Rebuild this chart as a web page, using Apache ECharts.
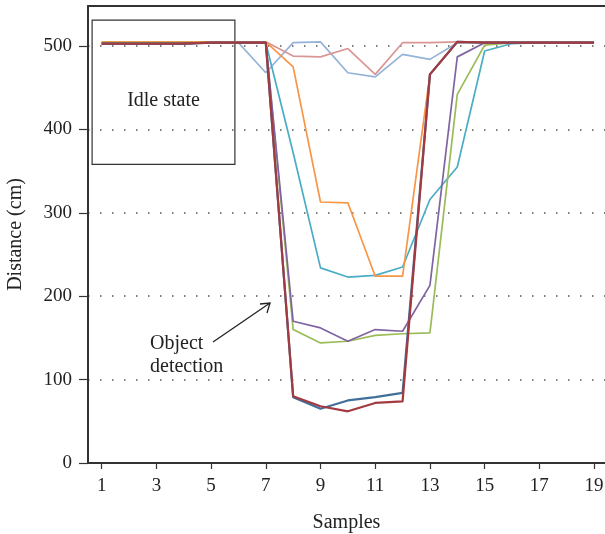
<!DOCTYPE html>
<html><head><meta charset="utf-8">
<script src="https://cdn.jsdelivr.net/npm/echarts@6/dist/echarts.min.js"></script>
<style>html,body{margin:0;padding:0;background:#fff}#c{width:605px;height:534px}</style>
</head><body><div id="c"></div>
<script>
const samples = [1,2,3,4,5,6,7,8,9,10,11,12,13,14,15,16,17,18,19];
const xTicks = [1,3,5,7,9,11,13,15,17,19];
const yTicks = [0,100,200,300,400,500];
const sBlue   = [503,503,503,503,504,504,504,79,65,75,79,84,466,505,504,504,504,504,504];
const sRed    = [503,503,503,503,504,504,504,80,68,62,72,74,466,505,504,504,504,504,504];
const sPurple = [503,503,503,503,504,504,504,170,162,146,160,158,213,487,504,504,504,504,504];
const sGreen  = [504,504,504,504,504,504,504,160,144,146,153,155,156,442,501,504,504,504,504];
const sTeal   = [503,503,503,503,504,504,504,372,234,223,225,235,316,355,494,503,504,504,504];
const sOrange = [505,505,505,505,505,505,505,475,313,312,224,224,466,505,505,504,504,504,504];
const sLBlue  = [503,503,503,503,504,504,468,504,505,468,463,490,484,504,504,504,504,504,504];
const sPink   = [505,505,505,505,505,505,505,488,487,497,466,504,504,505,505,505,505,505,505];

const FONT = '"Liberation Serif", "DejaVu Serif", serif';
const mk = (d) => d.map((v,i)=>[samples[i], v]);
const series = [
  {data: sLBlue, color:'#95b3d7', w:1.7},
  {data: sPink, color:'#d99694', w:1.7},
  {data: sTeal, color:'#4bacc6', w:1.7},
  {data: sOrange, color:'#f79646', w:1.7},
  {data: sGreen, color:'#9bbb59', w:1.7},
  {data: sPurple, color:'#8064a2', w:1.7},
  {data: sBlue, color:'#40709a', w:2.2},
  {data: sRed, color:'#a23a40', w:2.2}
].map(s => ({type:'line', data: mk(s.data), symbol:'none', silent:true,
  lineStyle:{color:s.color, width:s.w}, itemStyle:{color:s.color}, z:3}));

series[0].markArea = {
  silent:true,
  itemStyle:{color:'rgba(0,0,0,0)', borderColor:'#333', borderWidth:1.2},
  label:{show:true, position:'inside', offset:[0,8], formatter:'Idle state', color:'#222', fontFamily:FONT, fontSize:20},
  data:[[{coord:[0.65,531]},{coord:[5.87,358]}]]
};

const chart = echarts.init(document.getElementById('c'));
chart.setOption({
  animation:false,
  grid:{left:88, right:0, top:6, bottom:71, containLabel:false, outerBoundsMode:'none'},
  xAxis:[{
    type:'value', min:0.5, max:19.4,
    name:'Samples', nameLocation:'middle', nameGap:50,
    nameTextStyle:{fontFamily:FONT, fontSize:20, color:'#222'},
    axisLine:{show:true, onZero:false, lineStyle:{color:'#333', width:2}},
    axisTick:{show:true, length:6, customValues:xTicks, lineStyle:{color:'#333', width:1.2}},
    axisLabel:{customValues:xTicks, fontFamily:FONT, fontSize:19, color:'#222', margin:14},
    splitLine:{show:false}
  },{
    type:'value', position:'top', min:0.5, max:19.4,
    axisLine:{show:true, onZero:false, lineStyle:{color:'#333', width:2}},
    axisTick:{show:false}, axisLabel:{show:false}, splitLine:{show:false}
  }],
  yAxis:{
    type:'value', min:0, max:548,
    name:'Distance (cm)', nameLocation:'middle', nameGap:62,
    nameTextStyle:{fontFamily:FONT, fontSize:20, color:'#222'},
    axisLine:{show:true, lineStyle:{color:'#333', width:2}},
    axisTick:{show:true, length:9, customValues:yTicks, lineStyle:{color:'#333', width:1.2}},
    axisLabel:{customValues:yTicks, fontFamily:FONT, fontSize:19, color:'#222', margin:16},
    splitLine:{show:true, showMinLine:false, lineStyle:{color:'#555', type:[1.5,10.5], width:1.6}},
    interval:100
  },
  series: series,
  graphic:[
    {type:'text', left:150, top:332, style:{text:'Object\ndetection', font:'20px "Liberation Serif", serif', fill:'#222', lineHeight:23}},
    {type:'line', shape:{x1:213, y1:342, x2:270, y2:303}, style:{stroke:'#222', lineWidth:1.3}},
    {type:'polyline', shape:{points:[[260,304],[270,303],[267,313]]}, style:{stroke:'#222', lineWidth:1.3, fill:null}}
  ]
});
</script></body></html>
